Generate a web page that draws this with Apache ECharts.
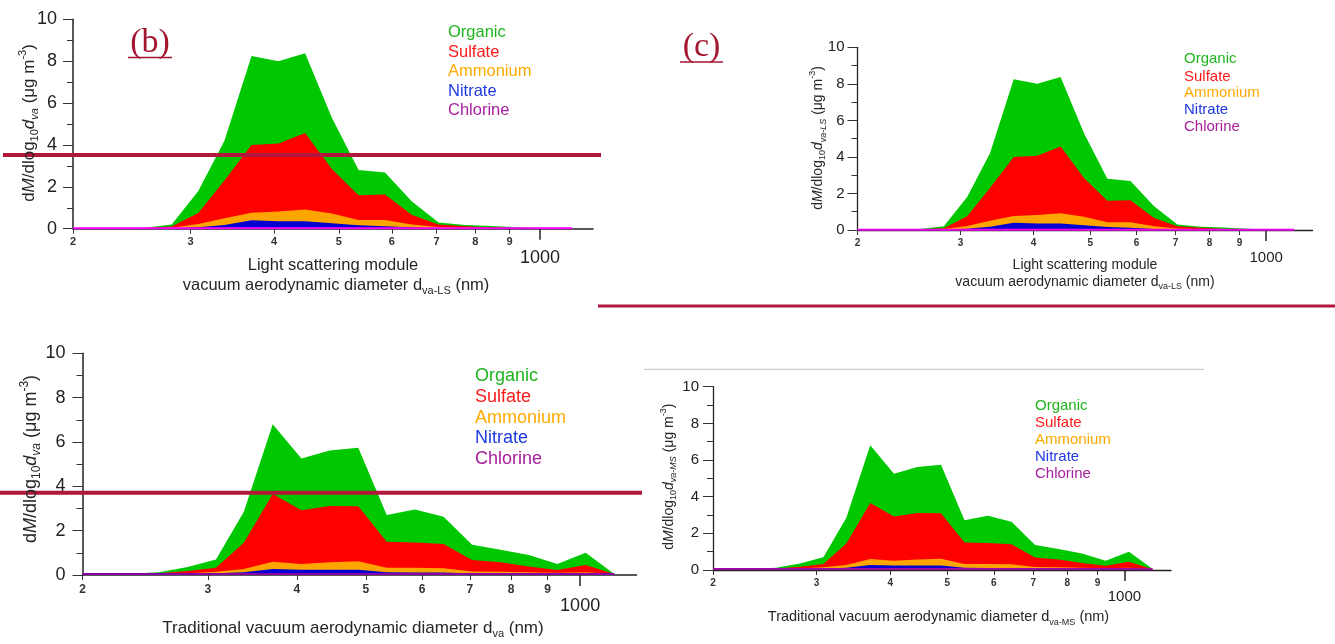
<!DOCTYPE html>
<html><head><meta charset="utf-8">
<script src="https://cdn.jsdelivr.net/npm/echarts@6/dist/echarts.min.js"></script>
<style>html,body{margin:0;padding:0;background:#fff}#chart{width:1335px;height:644px}</style>
</head><body><div id="chart"></div>
<script>
// ---- data (diameters in nm, values in µg m-3 per layer, stacked bottom->top) ----
const diameters = [200, 213, 233, 256, 281, 308, 337, 370, 406, 445, 488, 535, 586, 643, 705, 773, 847, 929, 1018, 1117];

// Light scattering module (panels b and c)
const chlorineLS = [0.02, 0.02, 0.02, 0.02, 0.02, 0.02, 0.02, 0.02, 0.02, 0.02, 0.02, 0.02, 0.02, 0.02, 0.02, 0.02, 0.02, 0.02, 0.02, 0.02];
const nitrateLS  = [0, 0, 0, 0, 0.01, 0.05, 0.16, 0.38, 0.33, 0.33, 0.24, 0.14, 0.10, 0.04, 0.01, 0, 0, 0, 0, 0];
const ammoniumLS = [0, 0, 0, 0, 0.02, 0.15, 0.32, 0.36, 0.47, 0.57, 0.46, 0.26, 0.30, 0.14, 0.05, 0.02, 0.01, 0, 0, 0];
const sulfateLS  = [0, 0, 0, 0.01, 0.05, 0.53, 1.80, 3.24, 3.25, 3.65, 2.13, 1.18, 1.21, 0.45, 0.12, 0.08, 0.03, 0.01, 0, 0];
const organicLS  = [0, 0, 0, 0.02, 0.10, 1.05, 1.90, 4.25, 3.93, 3.81, 2.45, 1.20, 1.05, 0.65, 0.10, 0.06, 0.07, 0.04, 0.01, 0];

// Traditional (bottom panels)
const chlorineTR = [0.05, 0.05, 0.05, 0.05, 0.05, 0.05, 0.05, 0.05, 0.05, 0.05, 0.05, 0.05, 0.05, 0.05, 0.05, 0.05, 0.05, 0.05, 0.05, 0.04];
const nitrateTR  = [0, 0, 0, 0, 0.01, 0.03, 0.07, 0.22, 0.19, 0.19, 0.19, 0.07, 0.06, 0.06, 0.02, 0.02, 0.01, 0.01, 0.01, 0];
const ammoniumTR = [0, 0, 0, 0.01, 0.02, 0.07, 0.15, 0.33, 0.26, 0.33, 0.38, 0.21, 0.22, 0.20, 0.09, 0.08, 0.06, 0.04, 0.06, 0];
const sulfateTR  = [0, 0, 0, 0.02, 0.10, 0.18, 1.18, 3.05, 2.42, 2.54, 2.48, 1.17, 1.14, 1.09, 0.52, 0.42, 0.26, 0.13, 0.33, 0];
const organicTR  = [0.01, 0.01, 0.01, 0.04, 0.18, 0.37, 1.40, 3.15, 2.33, 2.51, 2.64, 1.21, 1.49, 1.23, 0.69, 0.57, 0.52, 0.27, 0.55, 0.01];

const smallTickDiameters = [200, 300, 400, 500, 600, 700, 800, 900];
const smallTickLabels = ['2', '3', '4', '5', '6', '7', '8', '9'];
const bigTickDiameters = [1000];
const bigTickLabels = ['1000'];
const legendNames = ['Organic', 'Sulfate', 'Ammonium', 'Nitrate', 'Chlorine'];

// ---- styling / layout ----
const SANS = 'Liberation Sans, Arial, sans-serif';
const L = Math.log10;
const X_MIN = 200, X_MAX = 1200;
const areaColors = { Organic: '#00c800', Sulfate: '#ff0000', Ammonium: '#ffa500', Nitrate: '#0000d0' };
const legendColors = ['#1fb51f', '#ff1a1a', '#ffaa00', '#1f3ae0', '#a8209c'];
const RED = '#b0173a';
const stackOrder = ['Chlorine', 'Nitrate', 'Ammonium', 'Sulfate', 'Organic']; // bottom -> top

const datasets = {
  LS: { Chlorine: chlorineLS, Nitrate: nitrateLS, Ammonium: ammoniumLS, Sulfate: sulfateLS, Organic: organicLS },
  TR: { Chlorine: chlorineTR, Nitrate: nitrateTR, Ammonium: ammoniumTR, Sulfate: sulfateTR, Organic: organicTR }
};

const panels = [
  { grid: { left: 73, top: 19.3, width: 520, height: 209.4 }, data: 'LS', chl: '#ff00ff', axisW: 1.5,
    yFont: 18, yMargin: 16, sFont: 11, sMargin: 8, bFont: 18, bMargin: 20 },
  { grid: { left: 857.5, top: 47.3, width: 455, height: 182.7 }, data: 'LS', chl: '#ee00ee', axisW: 1.3,
    yFont: 15, yMargin: 13, sFont: 10, sMargin: 8, bFont: 15, bMargin: 20 },
  { grid: { left: 82.5, top: 353.3, width: 554, height: 221.7 }, data: 'TR', chl: '#8a00a8', axisW: 1.5,
    yFont: 18, yMargin: 17, sFont: 12, sMargin: 9, bFont: 18, bMargin: 22 },
  { grid: { left: 713, top: 386.7, width: 458, height: 183.3 }, data: 'TR', chl: '#9a0aa0', axisW: 1.3,
    yFont: 15, yMargin: 14, sFont: 10, sMargin: 8, bFont: 15, bMargin: 19 }
];

function labelFor(v, ds, labels) {
  for (let i = 0; i < ds.length; i++) if (Math.abs(L(ds[i]) - v) < 1e-6) return labels[i];
  return '';
}

// cumulative tops of each layer (sum of that layer and all layers below it)
function cumulative(d) {
  const out = {};
  let run = diameters.map(() => 0);
  stackOrder.forEach(n => { run = run.map((s, k) => s + d[n][k]); out[n] = run.slice(); });
  return out;
}

const option = { animation: false, backgroundColor: '#fff', grid: [], xAxis: [], yAxis: [], series: [], graphic: [] };

panels.forEach((p, i) => {
  option.grid.push(Object.assign({ containLabel: false, outerBoundsMode: 'none' }, p.grid));
  option.xAxis.push({
    type: 'value', gridIndex: i, position: 'bottom', min: L(X_MIN), max: L(X_MAX),
    axisLine: { show: true, onZero: false, lineStyle: { color: '#222', width: p.axisW } },
    axisTick: { show: true, customValues: smallTickDiameters.map(L), length: 5, lineStyle: { color: '#333', width: 1 } },
    axisLabel: { show: true, customValues: smallTickDiameters.map(L),
      formatter: v => labelFor(v, smallTickDiameters, smallTickLabels),
      fontSize: p.sFont, fontWeight: 'bold', color: '#333', margin: p.sMargin, fontFamily: SANS },
    splitLine: { show: false }
  });
  option.xAxis.push({
    type: 'value', gridIndex: i, position: 'bottom', min: L(X_MIN), max: L(X_MAX),
    axisLine: { show: false },
    axisTick: { show: true, customValues: bigTickDiameters.map(L), length: 11, lineStyle: { color: '#222', width: 1.5 } },
    axisLabel: { show: true, customValues: bigTickDiameters.map(L),
      formatter: v => labelFor(v, bigTickDiameters, bigTickLabels),
      fontSize: p.bFont, color: '#222', margin: p.bMargin, fontFamily: SANS },
    splitLine: { show: false }
  });
  option.yAxis.push({
    type: 'value', gridIndex: i, min: 0, max: 10, interval: 2,
    axisLine: { show: true, lineStyle: { color: '#222', width: p.axisW } },
    axisTick: { show: true, length: 10, lineStyle: { color: '#333', width: 1 } },
    minorTick: { show: true, splitNumber: 2, length: 6, lineStyle: { color: '#333', width: 1 } },
    axisLabel: { fontSize: p.yFont, color: '#222', margin: p.yMargin, fontFamily: SANS },
    splitLine: { show: false }, minorSplitLine: { show: false }
  });
  const cum = cumulative(datasets[p.data]);
  // draw top layer first, lower layers painted over it
  stackOrder.slice().reverse().forEach(name => {
    const isChl = name === 'Chlorine';
    const col = isChl ? p.chl : areaColors[name];
    option.series.push({
      type: 'line', name: name, xAxisIndex: 2 * i, yAxisIndex: i,
      data: diameters.map((dm, k) => [L(dm), cum[name][k]]),
      symbol: 'none', clip: true, z: 2,
      lineStyle: isChl ? { color: col, width: 2 } : { width: 0, color: col },
      areaStyle: { color: col, opacity: 1, origin: 'start' },
      itemStyle: { color: col }
    });
  });
});

// ---- text & decorations ----
const G = option.graphic;
function rich(fs, fam) {
  return {
    i: { fontSize: fs, fontStyle: 'italic', fontFamily: fam },
    sub: { fontSize: Math.round(fs * 0.65), fontFamily: fam, verticalAlign: 'bottom', lineHeight: Math.round(fs * 0.7) },
    isub: { fontSize: Math.round(fs * 0.65), fontStyle: 'italic', fontFamily: fam, verticalAlign: 'bottom', lineHeight: Math.round(fs * 0.7) },
    sup: { fontSize: Math.round(fs * 0.65), fontFamily: fam, verticalAlign: 'top', lineHeight: Math.round(fs * 0.7) }
  };
}
function txt(x, y, text, fs, opts) {
  opts = opts || {};
  G.push({
    type: 'text', x: x, y: y, rotation: opts.rot || 0, z: 100,
    style: {
      text: text, fontSize: fs, fontFamily: opts.fam || SANS, fontStyle: opts.fstyle || 'normal',
      fill: opts.fill || '#262626', align: opts.align || 'center', verticalAlign: 'middle',
      lineHeight: Math.round(fs * 1.35), rich: rich(fs, opts.fam || SANS)
    }
  });
}
function line(x1, y1, x2, y2, stroke, w) {
  G.push({ type: 'line', z: 90, shape: { x1: x1, y1: y1, x2: x2, y2: y2 }, style: { stroke: stroke, lineWidth: w } });
}
function legend(x, ys, fs) {
  legendNames.forEach((n, k) => txt(x, ys[k], n, fs, { align: 'left', fill: legendColors[k] }));
}

// Panel (b)
txt(150, 43, '(b)', 34, { fam: 'Liberation Serif, Times New Roman, serif', fill: '#a3162f' });
line(128, 57.5, 172, 57.5, '#a3162f', 1.5);
legend(448, [32, 52, 71, 91, 110], 16.5);
txt(29, 123, 'd{i|M}/dlog{sub|10}{i|d}{isub|va} (μg m{sup|-3})', 17, { rot: Math.PI / 2 });
txt(333, 265, 'Light scattering module', 16.5);
txt(336, 285, 'vacuum aerodynamic diameter d{sub|va-LS} (nm)', 16.5);
line(3, 155, 601, 155, RED, 4);

// Panel (c)
txt(701.5, 47, '(c)', 34, { fam: 'Liberation Serif, Times New Roman, serif', fill: '#a3162f' });
line(680, 62, 723, 62, '#a3162f', 1.5);
legend(1184, [59.3, 76.7, 93.3, 110, 127.3], 15);
txt(818, 138, 'd{i|M}/dlog{sub|10}{i|d}{isub|va-LS} (μg m{sup|-3})', 14, { rot: Math.PI / 2 });
txt(1085, 265, 'Light scattering module', 14);
txt(1085, 282, 'vacuum aerodynamic diameter d{sub|va-LS} (nm)', 14);
line(598, 306, 1335, 306, RED, 3);

// Bottom-left panel
legend(475, [376, 396.7, 417.7, 438.3, 459], 18);
txt(30.6, 459, 'd{i|M}/dlog{sub|10}{i|d}{isub|va} (μg m{sup|-3})', 18, { rot: Math.PI / 2 });
txt(353, 628, 'Traditional vacuum aerodynamic diameter d{sub|va} (nm)', 17);
line(0, 492.7, 642, 492.7, RED, 4);

// Bottom-right panel
line(644, 369.3, 1204, 369.3, '#c4c4c4', 1);
legend(1035, [405.7, 422.7, 440, 457.3, 474.3], 15);
txt(668.7, 476.7, 'd{i|M}/dlog{sub|10}{i|d}{isub|va-MS} (μg m{sup|-3})', 14, { rot: Math.PI / 2 });
txt(938.5, 616.7, 'Traditional vacuum aerodynamic diameter d{sub|va-MS} (nm)', 14.5);

const chart = echarts.init(document.getElementById('chart'), null, { renderer: 'canvas' });
chart.setOption(option);
</script>
</body></html>
